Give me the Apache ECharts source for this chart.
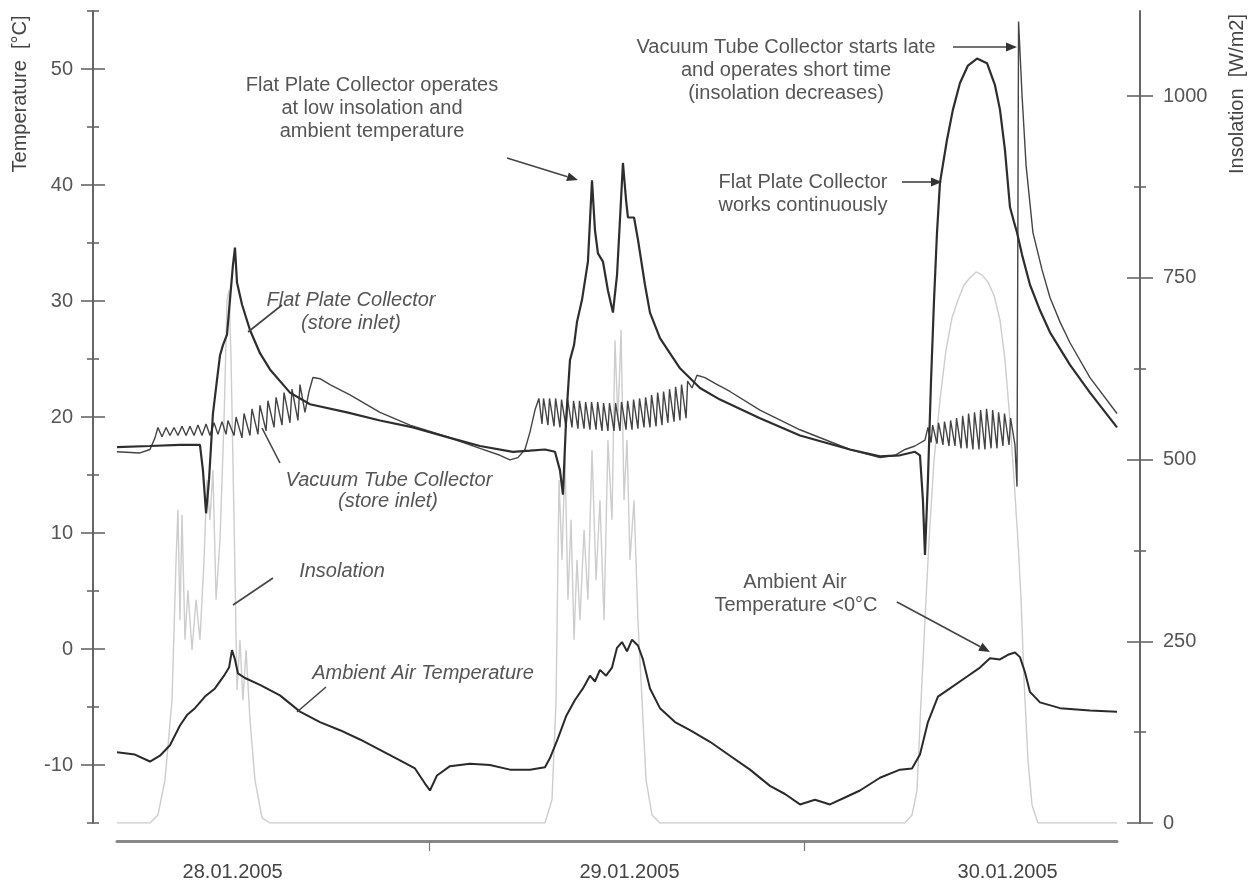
<!DOCTYPE html>
<html>
<head>
<meta charset="utf-8">
<script src="https://cdn.jsdelivr.net/npm/echarts@6/dist/echarts.min.js"></script>
<style>
html,body{margin:0;padding:0;background:#fff;}
#chart{width:1252px;height:883px;}
</style>
</head>
<body>
<div id="chart"></div>
<script>
// ---------- data (x = hours from start of record) ----------
const xTickHours = [20, 44];
const xLabelHours = [7.4, 32.8, 57.0];
const xLabelTexts = ['28.01.2005', '29.01.2005', '30.01.2005'];

const tempMajorTicks = [-10, 0, 10, 20, 30, 40, 50];
const tempMinorTicks = [-15, -5, 5, 15, 25, 35, 45, 55];
const insolMajorTicks = [0, 250, 500, 750, 1000];
const insolMinorTicks = [125, 375, 625, 875];

// Insolation [W/m2]
const insolation = [
  [0,0],[2.11,0],[2.62,11],[3.07,59],[3.52,169],[3.78,362],[3.9,431],[4.03,279],[4.16,424],
  [4.35,252],[4.54,320],[4.8,238],[5.06,307],[5.31,252],[5.57,362],[5.76,472],[5.95,417],
  [6.14,486],[6.34,307],[6.59,389],[6.85,554],[7.04,719],[7.17,733],[7.3,637],[7.49,417],
  [7.68,183],[7.87,252],[8.06,169],[8.26,238],[8.51,142],[8.83,59],[9.28,7],[9.79,0],
  [27.39,0],[27.84,32],[28.1,169],[28.29,472],[28.48,362],[28.67,506],[28.86,307],[29.06,417],
  [29.25,252],[29.44,362],[29.63,279],[29.89,403],[30.14,307],[30.4,513],[30.66,334],[30.91,444],
  [31.17,279],[31.42,527],[31.68,417],[31.87,664],[32.06,554],[32.26,678],[32.45,444],[32.64,527],
  [32.83,362],[33.09,444],[33.34,279],[33.6,169],[33.86,59],[34.24,11],[34.75,0],
  [50.43,0],[50.88,11],[51.2,45],[51.46,169],[51.71,279],[51.97,389],[52.29,499],[52.67,582],
  [53.06,651],[53.44,695],[53.82,719],[54.21,740],[54.59,750],[54.98,758],[55.36,754],[55.74,744],
  [56.13,726],[56.51,692],[56.83,637],[57.15,554],[57.41,472],[57.66,389],[57.86,307],[58.05,197],
  [58.3,87],[58.56,25],[58.94,0],[64,0]
];

// Ambient air temperature [°C]
const ambientTemp = [
  [0,-8.9],[1.15,-9.1],[2.11,-9.7],[2.75,-9.2],[3.39,-8.3],[4.03,-6.6],[4.48,-5.7],[4.99,-5.1],
  [5.63,-4.1],[6.27,-3.4],[6.85,-2.3],[7.17,-1.6],[7.36,-0.1],[7.55,-0.9],[7.74,-2.1],[8.19,-2.5],
  [9.15,-3.1],[10.43,-4.0],[11.71,-5.4],[12.99,-6.3],[14.27,-7.0],[15.55,-7.8],[16.83,-8.7],
  [18.11,-9.6],[19.07,-10.3],[19.71,-11.6],[20.03,-12.2],[20.48,-10.9],[21.31,-10.1],[22.59,-9.9],
  [23.87,-10.0],[25.15,-10.4],[26.43,-10.4],[27.39,-10.2],[27.71,-9.4],[28.22,-7.7],[28.74,-5.8],
  [29.31,-4.4],[29.82,-3.4],[30.27,-2.3],[30.59,-2.8],[30.91,-1.8],[31.3,-2.3],[31.68,-1.6],
  [32.0,0.1],[32.32,0.6],[32.64,-0.2],[32.96,0.8],[33.34,0.3],[33.66,-0.9],[34.11,-3.4],
  [34.75,-5.1],[35.71,-6.3],[36.67,-7.0],[37.95,-8.0],[39.23,-9.2],[40.51,-10.4],[41.79,-11.8],
  [42.75,-12.5],[43.71,-13.4],[44.67,-13.0],[45.63,-13.4],[46.59,-12.8],[47.55,-12.2],[48.83,-11.1],
  [50.11,-10.4],[50.88,-10.3],[51.39,-9.1],[51.9,-6.3],[52.54,-4.1],[53.31,-3.4],[54.27,-2.5],
  [55.23,-1.6],[55.87,-0.8],[56.51,-0.9],[57.02,-0.5],[57.47,-0.3],[57.79,-0.7],[58.11,-2.0],
  [58.43,-3.7],[59.07,-4.6],[60.35,-5.1],[62.27,-5.3],[64,-5.4]
];

// Flat plate collector, store inlet [°C]
const flatPlate = [
  [0,17.4],[2.11,17.5],[4.03,17.6],[5.31,17.6],[5.5,15.4],[5.7,11.7],[5.89,14.6],[6.14,20.3],
  [6.4,23.2],[6.59,25.3],[6.78,26.2],[7.04,27.1],[7.23,30.1],[7.42,33.1],[7.55,34.6],[7.68,31.6],
  [8.0,29.7],[8.51,27.5],[9.15,25.5],[9.79,24.1],[11.07,22.1],[12.35,21.1],[14.72,20.4],
  [16.83,19.7],[18.94,19.1],[21.31,18.2],[23.23,17.5],[25.34,17.0],[26.43,17.1],[27.39,17.2],
  [28.03,17.0],[28.35,15.4],[28.54,13.3],[28.74,19.7],[28.99,24.9],[29.25,26.2],[29.44,28.2],
  [29.76,30.1],[30.14,33.4],[30.4,40.4],[30.59,36.1],[30.78,34.1],[31.1,33.4],[31.42,30.9],
  [31.74,29.0],[32.0,32.2],[32.19,37.0],[32.38,41.9],[32.58,38.7],[32.7,37.2],[33.09,37.2],
  [33.34,35.3],[33.79,31.4],[34.11,29.0],[34.75,26.8],[36.03,24.2],[37.31,22.5],[38.59,21.5],
  [41.15,19.9],[43.71,18.4],[46.91,17.2],[48.83,16.6],[50.11,16.7],[51.07,17.0],[51.39,16.7],
  [51.58,12.8],[51.71,8.1],[51.9,14.6],[52.1,23.2],[52.29,30.1],[52.48,35.9],[52.67,40.2],
  [53.12,43.9],[53.5,46.5],[53.95,48.8],[54.46,50.3],[55.04,50.9],[55.68,50.5],[56.19,48.6],
  [56.51,46.5],[56.83,43.0],[57.15,38.1],[57.41,36.8],[57.6,35.9],[57.92,34.0],[58.43,31.4],
  [59.07,29.2],[59.71,27.3],[60.99,24.5],[62.27,22.1],[64,19.1]
];

// Vacuum tube collector, store inlet [°C]
const vacuumTube = [
  [0,17.0],[1.47,16.9],[2.11,17.2],[2.43,18.2],
  [2.62,19.1],[2.88,18.3],[3.14,19.1],[3.39,18.4],[3.65,19.1],[3.9,18.4],[4.16,19.2],[4.42,18.4],
  [4.67,19.2],[4.93,18.4],[5.18,19.3],[5.44,18.4],[5.7,19.4],[5.95,18.4],[6.21,19.5],[6.46,18.5],
  [6.72,19.6],[6.98,18.5],[7.1,19.7],[7.49,18.4],[7.62,20.0],[8.0,18.2],[8.13,20.3],[8.51,18.4],
  [8.64,20.7],[9.02,18.5],[9.15,21.0],[9.54,18.8],[9.66,21.4],[10.05,19.1],[10.18,21.7],
  [10.56,19.3],[10.69,22.1],[11.07,19.5],[11.2,22.4],[11.58,19.7],[11.71,22.8],[12.03,20.4],
  [12.29,22.2],[12.54,23.4],[12.99,23.3],[13.63,22.8],[14.91,21.9],[16.83,20.4],[18.75,19.3],
  [21.12,18.3],[23.23,17.3],[24.51,16.7],[25.15,16.3],[25.66,16.5],[26.11,17.2],[26.43,18.7],
  [26.75,20.6],[27.0,21.6],
  [27.2,19.4],[27.3,21.6],[27.58,19.3],[27.68,21.6],[27.97,19.2],[28.07,21.6],[28.35,19.1],
  [28.45,21.5],[28.74,19.1],[28.84,21.5],[29.12,19.1],[29.22,21.4],[29.5,19.0],[29.6,21.4],
  [29.89,19.0],[29.99,21.3],[30.27,18.9],[30.37,21.3],[30.66,18.9],[30.76,21.3],[31.04,18.8],
  [31.14,21.2],[31.42,18.8],[31.52,21.2],[31.81,18.8],[31.91,21.2],[32.19,18.8],[32.29,21.3],
  [32.58,18.9],[32.68,21.4],[32.96,18.9],[33.06,21.5],[33.34,19.0],[33.44,21.6],[33.73,19.1],
  [33.83,21.7],[34.11,19.1],[34.21,21.9],[34.5,19.2],[34.6,22.1],[34.88,19.3],[34.98,22.2],
  [35.26,19.5],[35.36,22.4],[35.65,19.6],[35.75,22.6],[36.03,19.7],[36.13,22.8],[36.42,19.9],
  [36.52,23.1],
  [36.8,22.5],[37.12,23.6],[37.63,23.4],[38.27,22.9],[39.23,22.2],[41.15,20.6],[43.71,18.9],
  [46.91,17.2],[48.83,16.5],[49.79,16.7],[50.43,17.2],[51.07,17.5],[51.71,18.0],[51.9,19.1],
  [52.1,17.8],[52.2,19.3],[52.48,17.7],[52.58,19.5],[52.86,17.6],[52.96,19.6],[53.25,17.5],
  [53.35,19.7],[53.63,17.5],[53.73,19.9],[54.02,17.3],[54.12,20.1],[54.4,17.3],[54.5,20.3],
  [54.78,17.2],[54.88,20.4],[55.17,17.2],[55.27,20.6],[55.55,17.2],[55.65,20.7],[55.94,17.3],
  [56.04,20.6],[56.32,17.3],[56.42,20.4],[56.7,17.5],[56.8,20.3],[57.09,17.6],[57.19,19.9],
  [57.47,17.6],[57.6,14.0],[57.7,54.1],[57.92,47.8],[58.18,41.7],[58.62,35.9],[59.2,32.7],
  [59.71,30.3],[60.35,28.2],[60.99,26.4],[62.27,23.4],[64,20.3]
];

// ---------- chart ----------
const FONT = '"Liberation Sans", Arial, Helvetica, sans-serif';
const TEXT = '#555';
const AXIS = '#666';

function yAxisBase(pos, min, max) {
  return {
    type: 'value', position: pos, min: min, max: max, gridIndex: 0,
    splitLine: { show: false }, axisLine: { show: false, onZero: false },
    axisTick: { show: false }, axisLabel: { show: false }
  };
}
function tickAxis(pos, min, max, offset, values, len) {
  const a = yAxisBase(pos, min, max);
  a.offset = offset;
  a.axisTick = { show: true, customValues: values, length: len, inside: false,
                 lineStyle: { color: AXIS, width: 1.6 } };
  return a;
}
function plainNum(v) { return String(v); }

const leftMain = yAxisBase('left', -15, 55);
leftMain.offset = 24;
leftMain.axisLine = { show: true, onZero: false, lineStyle: { color: AXIS, width: 2 } };
leftMain.axisLabel = { show: true, customValues: tempMajorTicks, margin: 20, formatter: plainNum,
  color: TEXT, fontSize: 20, fontFamily: FONT };

const rightMain = yAxisBase('right', 0, 1117);
rightMain.offset = 23;
rightMain.axisLine = { show: true, onZero: false, lineStyle: { color: AXIS, width: 2 } };
rightMain.axisLabel = { show: true, customValues: insolMajorTicks, margin: 23, formatter: plainNum,
  color: TEXT, fontSize: 20, fontFamily: FONT };

function textEl(x, y, text, italic) {
  return { type: 'text', x: x, y: y, z: 100,
    style: { text: text, fill: TEXT, font: (italic ? 'italic ' : '') + '20px ' + FONT,
      textAlign: 'center', textVerticalAlign: 'middle', align: 'center', verticalAlign: 'middle' } };
}
function lineEl(x1, y1, x2, y2) {
  return { type: 'line', z: 100, shape: { x1: x1, y1: y1, x2: x2, y2: y2 },
    style: { stroke: '#444', lineWidth: 1.6 } };
}
function arrowEls(x1, y1, x2, y2) {
  const a = Math.atan2(y2 - y1, x2 - x1), len = 11, half = 4.5;
  const bx = x2 - len * Math.cos(a), by = y2 - len * Math.sin(a);
  return [lineEl(x1, y1, bx, by), { type: 'polygon', z: 100,
    shape: { points: [[x2, y2], [bx + half * Math.sin(a), by - half * Math.cos(a)],
                      [bx - half * Math.sin(a), by + half * Math.cos(a)]] },
    style: { fill: '#333' } }];
}

const graphics = [
  { type: 'text', x: 20, y: 94, rotation: Math.PI / 2, z: 100,
    style: { text: 'Temperature  [°C]', fill: '#444', font: '20px ' + FONT,
      textAlign: 'center', textVerticalAlign: 'middle', align: 'center', verticalAlign: 'middle' } },
  { type: 'text', x: 1237, y: 94, rotation: Math.PI / 2, z: 100,
    style: { text: 'Insolation  [W/m2]', fill: '#444', font: '20px ' + FONT,
      textAlign: 'center', textVerticalAlign: 'middle', align: 'center', verticalAlign: 'middle' } },
  textEl(372, 85, 'Flat Plate Collector operates'),
  textEl(372, 108, 'at low insolation and'),
  textEl(372, 131, 'ambient temperature'),
  textEl(786, 47, 'Vacuum Tube Collector starts late'),
  textEl(786, 70, 'and operates short time'),
  textEl(786, 93, '(insolation decreases)'),
  textEl(803, 182, 'Flat Plate Collector'),
  textEl(803, 205, 'works continuously'),
  textEl(351, 300, 'Flat Plate Collector', true),
  textEl(351, 323, '(store inlet)', true),
  textEl(389, 480, 'Vacuum Tube Collector', true),
  textEl(388, 501, '(store inlet)', true),
  textEl(342, 571, 'Insolation', true),
  textEl(423, 673, 'Ambient Air Temperature', true),
  textEl(795, 582, 'Ambient Air'),
  textEl(796, 605, 'Temperature <0°C'),
  lineEl(282, 305, 248, 332),
  lineEl(280, 463, 262, 428),
  lineEl(273, 578, 233, 605),
  lineEl(326, 687, 297, 712)
].concat(arrowEls(507, 158, 578, 180))
 .concat(arrowEls(953, 47, 1017, 47))
 .concat(arrowEls(902, 182, 942, 182))
 .concat(arrowEls(897, 602, 990, 652));

const option = {
  backgroundColor: '#ffffff',
  animation: false,
  grid: { left: 117, right: 135, top: 11, bottom: 60, containLabel: false, outerBoundsMode: 'none' },
  xAxis: {
    type: 'value', min: 0, max: 64, offset: 18, position: 'bottom',
    splitLine: { show: false },
    axisLine: { show: true, onZero: false, lineStyle: { color: '#888', width: 3 } },
    axisTick: { show: true, customValues: xTickHours, length: 10, lineStyle: { color: '#777', width: 1.2 } },
    axisLabel: { show: true, customValues: xLabelHours, margin: 21, color: '#444', fontSize: 20, fontFamily: FONT,
      formatter: function (v) { const i = xLabelHours.indexOf(v); return i >= 0 ? xLabelTexts[i] : ''; } }
  },
  yAxis: [
    leftMain,
    tickAxis('left', -15, 55, 12, tempMajorTicks, 24),
    tickAxis('left', -15, 55, 18, tempMinorTicks, 12),
    rightMain,
    tickAxis('right', 0, 1117, 10, insolMajorTicks, 26),
    tickAxis('right', 0, 1117, 17, insolMinorTicks, 12)
  ],
  series: [
    { name: 'Insolation', type: 'line', yAxisIndex: 3, data: insolation, showSymbol: false, z: 1,
      lineStyle: { color: '#cdcdcd', width: 1.4 }, itemStyle: { color: '#cdcdcd' } },
    { name: 'Ambient Air Temperature', type: 'line', yAxisIndex: 0, data: ambientTemp, showSymbol: false, z: 3,
      lineStyle: { color: '#2a2a2a', width: 2 }, itemStyle: { color: '#2a2a2a' } },
    { name: 'Vacuum Tube Collector', type: 'line', yAxisIndex: 0, data: vacuumTube, showSymbol: false, z: 3,
      lineStyle: { color: '#444', width: 1.4 }, itemStyle: { color: '#444' } },
    { name: 'Flat Plate Collector', type: 'line', yAxisIndex: 0, data: flatPlate, showSymbol: false, z: 4,
      lineStyle: { color: '#2e2e2e', width: 2.2 }, itemStyle: { color: '#2e2e2e' } }
  ],
  graphic: graphics
};

const chart = echarts.init(document.getElementById('chart'), null, { renderer: 'canvas' });
chart.setOption(option);
</script>
</body>
</html>
